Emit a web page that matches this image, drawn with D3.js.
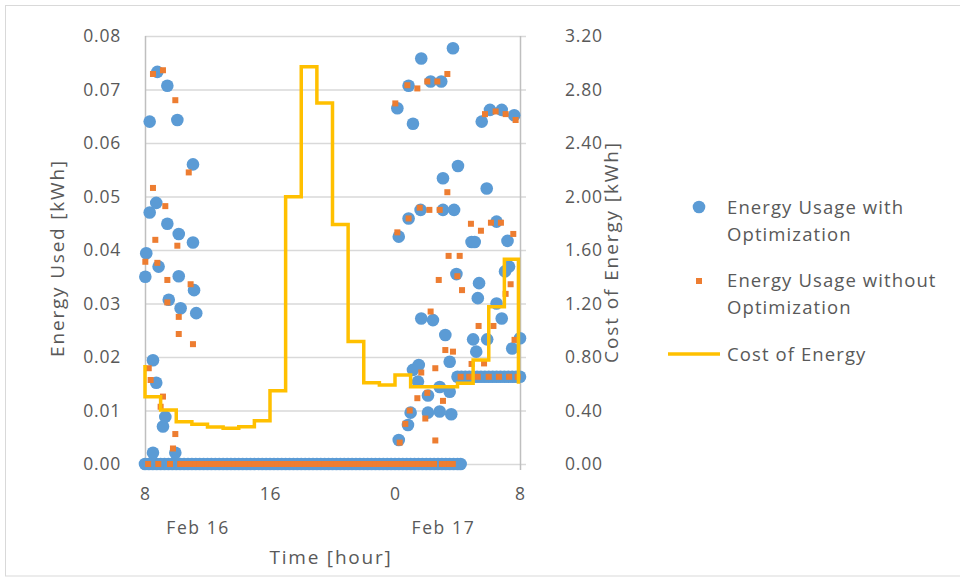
<!DOCTYPE html>
<html>
<head>
<meta charset="utf-8">
<script src="https://cdn.jsdelivr.net/npm/d3@7"></script>
<style>
  body { margin: 0; background: #fff; }
  text { font-family: "Open Sans", sans-serif; fill: #595959; }
</style>
</head>
<body>
<div id="chart"></div>
<script>
// hours counted from Feb 16 00:00 (so 24 = Feb 17 00:00)
var withOpt = [
  [8.02, 0.035], [8.08, 0.0394], [8.3, 0.047], [8.3, 0.064], [8.51, 0.0194], [8.51, 0.0021],
  [8.72, 0.0488], [8.72, 0.0152], [8.79, 0.0733], [8.87, 0.0369], [9.15, 0.007], [9.3, 0.0088],
  [9.43, 0.0707], [9.43, 0.0449], [9.52, 0.0307], [9.94, 0.0021], [10.07, 0.0643], [10.16, 0.043],
  [10.16, 0.0351], [10.28, 0.0291], [11.07, 0.056], [11.07, 0.0414], [11.14, 0.0325], [11.28, 0.0282],
  [24.15, 0.0665], [24.24, 0.0425], [24.24, 0.0045], [24.83, 0.0073], [24.87, 0.0707], [24.87, 0.0459],
  [25.0, 0.0096], [25.15, 0.0636], [25.15, 0.0176], [25.47, 0.0154], [25.52, 0.0185], [25.64, 0.0475],
  [25.68, 0.0758], [25.68, 0.0272], [26.11, 0.0128], [26.11, 0.0096], [26.28, 0.0715], [26.43, 0.0269],
  [26.86, 0.0144], [26.86, 0.0098], [26.96, 0.0715], [27.07, 0.0534], [27.07, 0.0475], [27.22, 0.0241],
  [27.5, 0.0191], [27.5, 0.0135], [27.6, 0.0093], [27.71, 0.0777], [27.78, 0.0475], [27.93, 0.0355],
  [28.03, 0.0557], [28.9, 0.0415], [29.1, 0.0415], [29.0, 0.0233], [29.2, 0.021], [29.3, 0.031],
  [29.38, 0.0338], [29.55, 0.064], [29.87, 0.0515], [29.9, 0.0233], [30.08, 0.0662], [30.5, 0.0453],
  [30.5, 0.030], [30.83, 0.0662], [30.83, 0.0272], [31.04, 0.036], [31.2, 0.0417], [31.3, 0.0369],
  [31.5, 0.0216], [31.63, 0.0652], [32.0, 0.0235],
  [28.0, 0.0163], [28.25, 0.0163], [28.5, 0.0163], [28.75, 0.0163], [29.0, 0.0163], [29.25, 0.0163],
  [29.5, 0.0163], [29.75, 0.0163], [30.0, 0.0163], [30.25, 0.0163], [30.5, 0.0163], [30.75, 0.0163],
  [31.0, 0.0163], [31.25, 0.0163], [31.5, 0.0163], [31.75, 0.0163], [32.0, 0.0163]
];
var withOptZeroTimes = [8, 8.25, 8.5, 8.75, 9, 9.25, 9.5, 9.75, 10, 10.25, 10.5, 10.75, 11, 11.25, 11.5, 11.75,
  12, 12.25, 12.5, 12.75, 13, 13.25, 13.5, 13.75, 14, 14.25, 14.5, 14.75, 15, 15.25, 15.5, 15.75,
  16, 16.25, 16.5, 16.75, 17, 17.25, 17.5, 17.75, 18, 18.25, 18.5, 18.75, 19, 19.25, 19.5, 19.75,
  20, 20.25, 20.5, 20.75, 21, 21.25, 21.5, 21.75, 22, 22.25, 22.5, 22.75, 23, 23.25, 23.5, 23.75,
  24, 24.25, 24.5, 24.75, 25, 25.25, 25.5, 25.75, 26, 26.25, 26.5, 26.75, 27, 27.25, 27.5, 27.75, 28, 28.2];

var withoutOpt = [
  [8.02, 0.0378], [8.24, 0.0179], [8.36, 0.0157], [8.51, 0.0729], [8.51, 0.0516], [8.66, 0.0419],
  [8.79, 0.0376], [9.0, 0.0107], [9.15, 0.0736], [9.15, 0.0126], [9.3, 0.0482], [9.43, 0.0344],
  [9.43, 0.0302], [9.79, 0.0029], [9.94, 0.068], [9.94, 0.0056], [10.07, 0.0408], [10.16, 0.0275],
  [10.16, 0.0243], [10.8, 0.0545], [10.92, 0.0336], [11.07, 0.0224],
  [24.02, 0.0674], [24.15, 0.0433], [24.3, 0.004], [24.66, 0.0075], [24.79, 0.0708], [24.87, 0.0459],
  [24.94, 0.01], [25.43, 0.0702], [25.43, 0.0123], [25.58, 0.0479], [25.68, 0.0171], [25.94, 0.0085],
  [26.07, 0.0715], [26.07, 0.0133], [26.2, 0.0475], [26.28, 0.0285], [26.58, 0.0179], [26.58, 0.0044],
  [26.71, 0.0715], [26.8, 0.0344], [26.86, 0.0475], [27.07, 0.0118], [27.22, 0.0213], [27.35, 0.0729],
  [27.35, 0.0508], [27.43, 0.0389], [27.71, 0.021], [27.99, 0.0351], [28.14, 0.0389], [28.29, 0.0325],
  [28.86, 0.0449], [28.9, 0.0187], [29.35, 0.0258], [29.5, 0.0436], [29.7, 0.0188], [29.76, 0.0654],
  [30.14, 0.0451], [30.3, 0.0258], [30.44, 0.0659], [30.78, 0.0451], [31.08, 0.0654], [31.08, 0.0318],
  [31.4, 0.0336], [31.57, 0.043], [31.65, 0.0232], [31.72, 0.0643],
  [28.2, 0.0163], [28.75, 0.0163], [29.3, 0.0163], [30.0, 0.0163], [30.65, 0.0163], [31.3, 0.0163], [31.85, 0.0163]
];
var withoutOptZeroTimes = [8.2, 8.85, 9.6, 10.25, 10.5, 10.75, 11, 11.25, 11.5, 11.75,
  12, 12.25, 12.5, 12.75, 13, 13.25, 13.5, 13.75, 14, 14.25, 14.5, 14.75, 15, 15.25, 15.5, 15.75,
  16, 16.25, 16.5, 16.75, 17, 17.25, 17.5, 17.75, 18, 18.25, 18.5, 18.75, 19, 19.25, 19.5, 19.75,
  20, 20.25, 20.5, 20.75, 21, 21.25, 21.5, 21.75, 22, 22.25, 22.5, 22.75, 23, 23.25, 23.5, 23.75,
  24, 24.25, 24.5, 24.75, 25, 25.25, 25.5, 25.75, 26, 26.25, 26.5, 27, 27.25, 27.5, 27.7];

// cost steps (value holds until the next time)
var costTimes = [8, 8, 9, 10, 11, 12, 13, 14, 15, 16, 17, 18, 19, 20, 21, 22, 23, 24, 25, 26, 27, 28, 29, 30, 31, 31.9, 31.9];
var costValues = [0.74, 0.503, 0.404, 0.316, 0.297, 0.277, 0.267, 0.279, 0.324, 0.548, 1.999, 2.97, 2.70, 1.79,
  0.915, 0.608, 0.59, 0.665, 0.578, 0.578, 0.578, 0.603, 0.778, 1.176, 1.53, 1.53, 0.60];

var leftTicks = [0, 0.01, 0.02, 0.03, 0.04, 0.05, 0.06, 0.07, 0.08];
var rightTicks = [0, 0.4, 0.8, 1.2, 1.6, 2.0, 2.4, 2.8, 3.2];
var hourTicks = [8, 16, 24, 32];
var hourLabels = ['8', '16', '0', '8'];
var dayTimes = [11.4, 27.1];
var dayLabels = ['Feb 16', 'Feb 17'];

var w = 960, h = 578,
  x = d3.scaleLinear().domain([8, 32]).range([145, 520]),
  y = d3.scaleLinear().domain([0, 0.08]).range([464, 36]),
  y2 = d3.scaleLinear().domain([0, 3.2]).range([464, 36]);

var blue = '#5B9BD5', orange = '#ED7D31', gold = '#FFC000';

var svg = d3.select('#chart').append('svg')
  .attr('width', w).attr('height', h);

svg.append('rect').attr('x', 5.5).attr('y', 5.5).attr('width', 1000).attr('height', 570.5)
  .attr('fill', 'none').attr('stroke', '#d9d9d9');

function styleTicks(g, ls) {
  g.select('.domain').remove();
  g.selectAll('text').attr('font-size', 17.5).attr('fill', '#595959')
    .attr('font-family', '"Open Sans", sans-serif').attr('letter-spacing', ls);
}

// gridlines + left labels
var yAxis = d3.axisLeft(y).tickValues(leftTicks).tickSize(0).tickPadding(12).tickFormat(d3.format('.2f'));
var gl = svg.append('g').attr('transform', 'translate(133,0)').call(yAxis);
styleTicks(gl, 0.8);

svg.append('g').selectAll('line').data(leftTicks).enter().append('line')
  .attr('x1', 145).attr('x2', 526)
  .attr('y1', function(d) { return y(d) + 0.5; }).attr('y2', function(d) { return y(d) + 0.5; })
  .attr('stroke', '#d9d9d9').attr('stroke-width', 1.3);

var y2Axis = d3.axisRight(y2).tickValues(rightTicks).tickSize(0).tickPadding(0).tickFormat(d3.format('.2f'));
var gr = svg.append('g').attr('transform', 'translate(565,0)').call(y2Axis);
styleTicks(gr, 0.8);

// axis lines
svg.append('line').attr('x1', 145.5).attr('x2', 145.5).attr('y1', 36).attr('y2', 464)
  .attr('stroke', '#bfbfbf').attr('stroke-width', 1.5);
svg.append('line').attr('x1', 520.5).attr('x2', 520.5).attr('y1', 36).attr('y2', 470)
  .attr('stroke', '#bfbfbf').attr('stroke-width', 1.5);

var xAxis = d3.axisBottom(x).tickValues(hourTicks).tickSize(0).tickPadding(0)
  .tickFormat(function(d, i) { return hourLabels[i]; });
var gx = svg.append('g').attr('transform', 'translate(0,488)').call(xAxis);
styleTicks(gx, 0.8);

svg.append('g').selectAll('text').data(dayTimes).enter().append('text')
  .attr('x', function(d) { return x(d); }).attr('y', 534)
  .attr('text-anchor', 'middle').attr('font-size', 17.5).attr('letter-spacing', 1.6)
  .text(function(d, i) { return dayLabels[i]; });

svg.append('text').attr('x', 331).attr('y', 564).attr('text-anchor', 'middle')
  .attr('font-size', 19).attr('letter-spacing', 1.8).text('Time [hour]');
svg.append('text').attr('transform', 'translate(64,258) rotate(-90)').attr('text-anchor', 'middle')
  .attr('font-size', 19).attr('letter-spacing', 1.8).text('Energy Used [kWh]');
svg.append('text').attr('transform', 'translate(618,252) rotate(-90)').attr('text-anchor', 'middle')
  .attr('font-size', 19).attr('letter-spacing', 1.9).text('Cost of Energy [kWh]');

// series
var zerosA = withOptZeroTimes.map(function(t) { return [t, 0]; });
var zerosB = withoutOptZeroTimes.map(function(t) { return [t, 0]; });

svg.append('g').selectAll('circle').data(zerosA.concat(withOpt)).enter().append('circle')
  .attr('cx', function(d) { return x(d[0]); }).attr('cy', function(d) { return y(d[1]); })
  .attr('r', 6.3).attr('fill', blue);

svg.append('g').selectAll('rect').data(zerosB.concat(withoutOpt)).enter().append('rect')
  .attr('x', function(d) { return x(d[0]) - 3; }).attr('y', function(d) { return y(d[1]) - 3; })
  .attr('width', 6).attr('height', 6).attr('fill', orange);

var costLine = d3.line()
  .x(function(d) { return x(d[0]); })
  .y(function(d) { return y2(d[1]); })
  .curve(d3.curveStepAfter);

svg.append('path').datum(costTimes.map(function(t, i) { return [t, costValues[i]]; }))
  .attr('d', costLine).attr('fill', 'none').attr('stroke', gold).attr('stroke-width', 3.5)
  .attr('stroke-linejoin', 'miter');

// legend
var lg = svg.append('g');
lg.append('circle').attr('cx', 699).attr('cy', 207).attr('r', 6.3).attr('fill', blue);
lg.append('rect').attr('x', 696).attr('y', 278).attr('width', 6).attr('height', 6).attr('fill', orange);
lg.append('line').attr('x1', 668).attr('x2', 720).attr('y1', 354).attr('y2', 354)
  .attr('stroke', gold).attr('stroke-width', 3.5);
var legendLines = [['Energy Usage with', 214], ['Optimization', 241], ['Energy Usage without', 287],
  ['Optimization', 314], ['Cost of Energy', 361]];
lg.selectAll('text.l').data(legendLines).enter().append('text')
  .attr('x', 727).attr('y', function(d) { return d[1]; }).attr('font-size', 18.5)
  .attr('letter-spacing', 1.1)
  .text(function(d) { return d[0]; });
</script>
</body>
</html>
